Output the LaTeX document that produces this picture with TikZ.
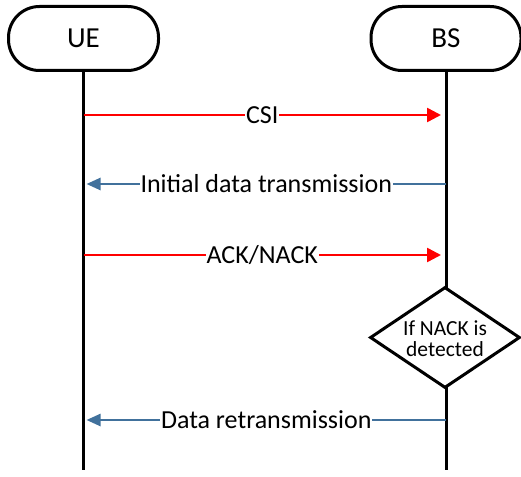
\documentclass[tikz,border=0pt]{standalone}
\usepackage{fontspec}
\setmainfont{Carlito}
\usetikzlibrary{shapes.geometric,arrows.meta}
\definecolor{msgred}{RGB}{255,0,0}
\definecolor{msgblue}{RGB}{65,113,156}
\begin{document}
\begin{tikzpicture}[x=1pt,y=-1pt,
  actor/.style={draw,line width=3pt,rounded corners=31pt,minimum width=150pt,minimum height=64pt,font=\fontsize{29}{34}\selectfont},
  life/.style={line width=3pt},
  redmsg/.style={draw=msgred,line width=2.5pt,-{Triangle[length=14pt,width=14pt]}},
  bluemsg/.style={draw=msgblue,line width=2.5pt,-{Triangle[length=14pt,width=12pt]}},
  lbl/.style={fill=white,inner sep=1pt,font=\fontsize{26}{30}\selectfont},
  dec/.style={draw,diamond,line width=3pt,fill=white,minimum width=150pt,minimum height=101pt,inner sep=0pt,aspect=1.5},
  dectext/.style={align=center,inner sep=0pt,font=\fontsize{21.5}{21}\selectfont}]
\useasboundingbox (0,0) rectangle (521,476);
\node[actor] (ue) at (83.5,38.5) {UE};
\node[actor] (bs) at (446,38.5) {BS};
\coordinate (ueend) at (83.5,470);
\coordinate (bsend) at (446,470);
\draw[life] (ue.south) -- (ueend);
\draw[life] (bs.south) -- (bsend);
\node[dec] (chk) at (445,337.5) {};
\node[dectext] (chktxt) at (445,339) {If NACK is\\detected};
\coordinate (u1) at (83.5,115); \coordinate (b1) at (446,115);
\coordinate (u2) at (83.5,184); \coordinate (b2) at (446,184);
\coordinate (u3) at (83.5,255); \coordinate (b3) at (446,255);
\coordinate (u4) at (83.5,420); \coordinate (b4) at (446,420);
\draw[redmsg] (u1) -- node[lbl,text=black] (m1) {CSI} ([xshift=-5pt]b1);
\draw[bluemsg] (b2) -- node[lbl,text=black] (m2) {Initial data transmission} ([xshift=3pt]u2);
\draw[redmsg] (u3) -- node[lbl,text=black] (m3) {ACK/NACK} ([xshift=-5pt]b3);
\draw[bluemsg] (b4) -- node[lbl,text=black] (m4) {Data retransmission} ([xshift=3pt]u4);
\end{tikzpicture}
\end{document}
